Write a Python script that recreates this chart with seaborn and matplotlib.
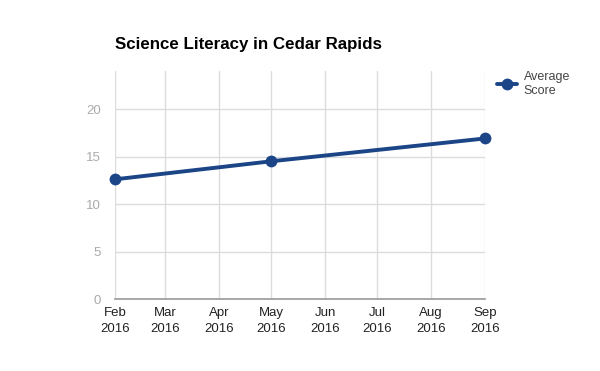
import pandas as pd
import matplotlib
matplotlib.use("Agg")
import matplotlib.pyplot as plt
import matplotlib.dates as mdates
import seaborn as sns

# data
months = ["2016-02-01", "2016-05-01", "2016-09-01"]
scores = [12.6, 14.5, 16.9]
y_ticks = [0, 5, 10, 15, 20]

df = pd.DataFrame({"date": pd.to_datetime(months), "score": scores})

sns.set_style("whitegrid")
plt.rcParams["font.family"] = ["Liberation Sans", "DejaVu Sans"]

fig = plt.figure(figsize=(6, 3.71), dpi=100)
ax = fig.add_axes([0.1917, 0.194, 0.6166, 0.6146])

sns.lineplot(data=df, x="date", y="score", ax=ax, color="#1c4587",
             linewidth=2.8, marker="o", markersize=8.5, markeredgewidth=0,
             label="Average\nScore", clip_on=False, zorder=5)

ax.set_xlim(pd.Timestamp("2016-02-01"), pd.Timestamp("2016-09-01"))
ax.set_ylim(0, 24)
ax.set_yticks(y_ticks)
ax.xaxis.set_major_locator(mdates.MonthLocator())
ax.xaxis.set_major_formatter(mdates.DateFormatter("%b\n%Y"))

ax.grid(True, color="#dcdcdc", linewidth=1)
for side in ["top", "right", "left"]:
    ax.spines[side].set_visible(False)
ax.spines["bottom"].set_color("#999999")
ax.spines["bottom"].set_linewidth(1.2)

ax.tick_params(axis="x", colors="#222222", labelsize=9.5, length=0, pad=6)
ax.tick_params(axis="y", colors="#aaaaaa", labelsize=9.5, length=0, pad=10)
for t in ax.get_xticklabels():
    t.set_color("#222222")
    t.set_linespacing(1.45)

ax.set_xlabel("")
ax.set_ylabel("")
# title sits well above the plot area, so place it on the figure
fig.text(0.1917, 0.879, "Science Literacy in Cedar Rapids", fontsize=12.2,
         fontweight="bold", color="#000000", ha="left", va="center")

ax.legend(loc="upper left", bbox_to_anchor=(1.02, 1.02), frameon=False,
          fontsize=9, labelcolor="#444444", handlelength=1.6,
          handletextpad=0.5, borderaxespad=0)

fig.savefig("out.png", dpi=100)
